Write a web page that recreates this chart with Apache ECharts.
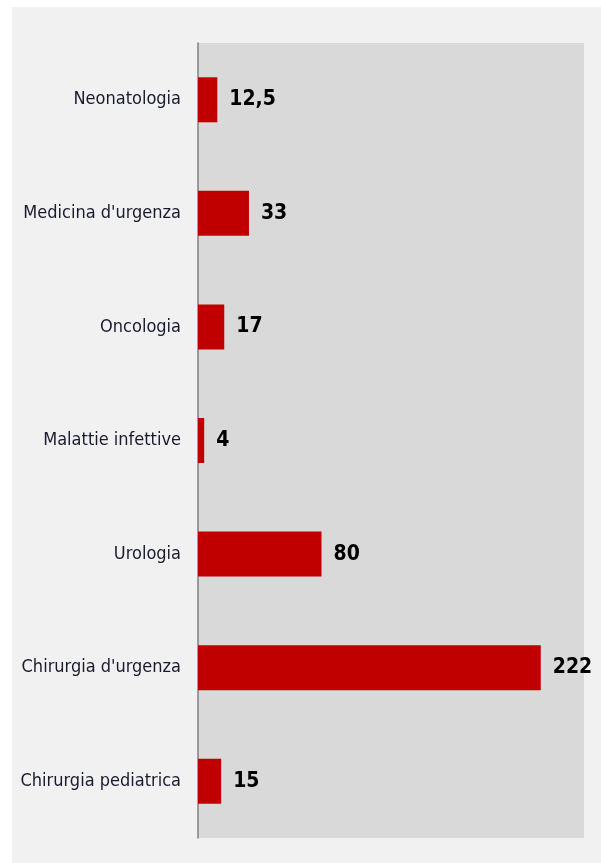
<!DOCTYPE html>
<html>
<head>
<meta charset="utf-8">
<script src="https://cdn.jsdelivr.net/npm/echarts@6/dist/echarts.min.js"></script>
<style>
  html, body { margin: 0; padding: 0; background: #ffffff; }
  #chart { width: 601px; height: 863px; }
</style>
</head>
<body>
<div id="chart"></div>
<script>
// reparti e numero di casi
const categories = ['Neonatologia', "Medicina d'urgenza", 'Oncologia', 'Malattie infettive', 'Urologia', "Chirurgia d'urgenza", 'Chirurgia pediatrica'];
const values = [12.5, 33, 17, 4, 80, 222, 15];

const FONT = "'Liberation Sans Narrow', 'Arial Narrow', 'DejaVu Sans Condensed', sans-serif";

const chart = echarts.init(document.getElementById('chart'));

const option = {
    backgroundColor: '#ffffff',
    animation: false,
    graphic: [
        { type: 'rect', z: -10, shape: { x: 12, y: 7, width: 589, height: 856 }, style: { fill: '#f1f1f1' } }
    ],
    grid: {
        left: 198, right: 17, top: 43, bottom: 25,
        show: true, backgroundColor: '#d9d9d9', borderWidth: 0
    },
    xAxis: {
        type: 'value', min: 0, max: 250,
        axisLine: { show: false }, axisTick: { show: false },
        axisLabel: { show: false }, splitLine: { show: false }
    },
    yAxis: {
        type: 'category', inverse: true, data: categories,
        axisLine: { show: true, lineStyle: { color: '#808080', width: 1.5 } },
        axisTick: { show: false },
        axisLabel: { color: '#1a1a2e', fontFamily: FONT, fontSize: 18, margin: 17 }
    },
    series: [{
        type: 'bar',
        data: values,
        barWidth: 45,
        itemStyle: { color: '#c00000' },
        label: {
            show: true, position: 'right', distance: 12,
            color: '#000', fontFamily: FONT, fontWeight: 'bold', fontSize: 21,
            formatter: p => String(p.value).replace('.', ',')
        }
    }]
};

chart.setOption(option);
window.addEventListener('resize', () => chart.resize());
</script>
</body>
</html>
